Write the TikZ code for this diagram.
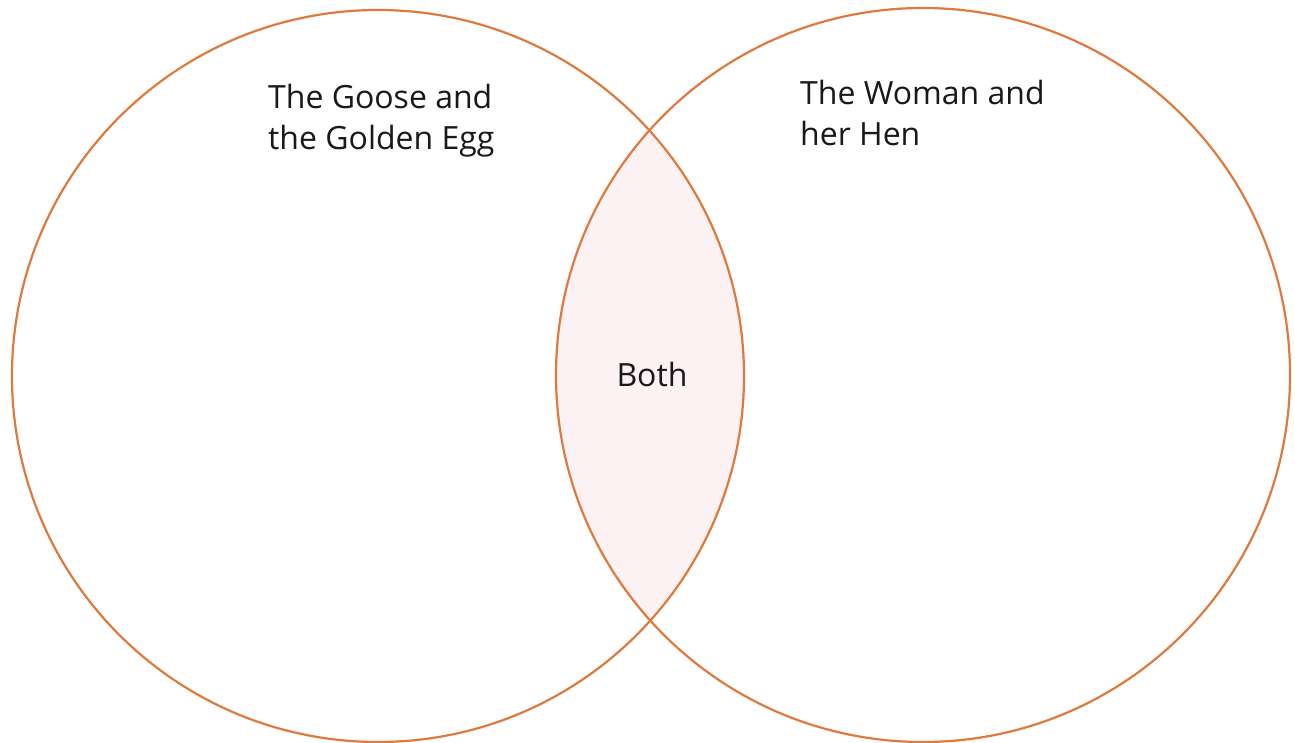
\documentclass[tikz,border=0pt]{standalone}
\usepackage{fontspec}
\setmainfont{Open Sans}
\definecolor{ring}{RGB}{222,122,62}
\definecolor{lens}{RGB}{252,242,243}
\begin{document}
\begin{tikzpicture}[x=1pt,y=-1pt,
  ringline/.style={draw=ring,line width=2.2pt},
  lbl/.style={anchor=base west,font=\fontsize{32}{41}\selectfont,text=black!90,inner sep=0pt,align=left}]
\useasboundingbox[fill=white] (0,0) rectangle (1295,743);
\begin{scope}
  \clip (378,376) circle (366);
  \fill[lens] (923,375) circle (367);
\end{scope}
\draw[ringline] (378,376) circle (366);
\draw[ringline] (923,375) circle (367);
\node[lbl] (goose) at (268,150) {The Goose and\\the Golden Egg};
\node[lbl] (woman) at (800,146) {The Woman and\\her Hen};
\node[anchor=center,font=\fontsize{32}{41}\selectfont,text=black!90,inner sep=0pt] (both) at (652,374) {Both};
\end{tikzpicture}
\end{document}
